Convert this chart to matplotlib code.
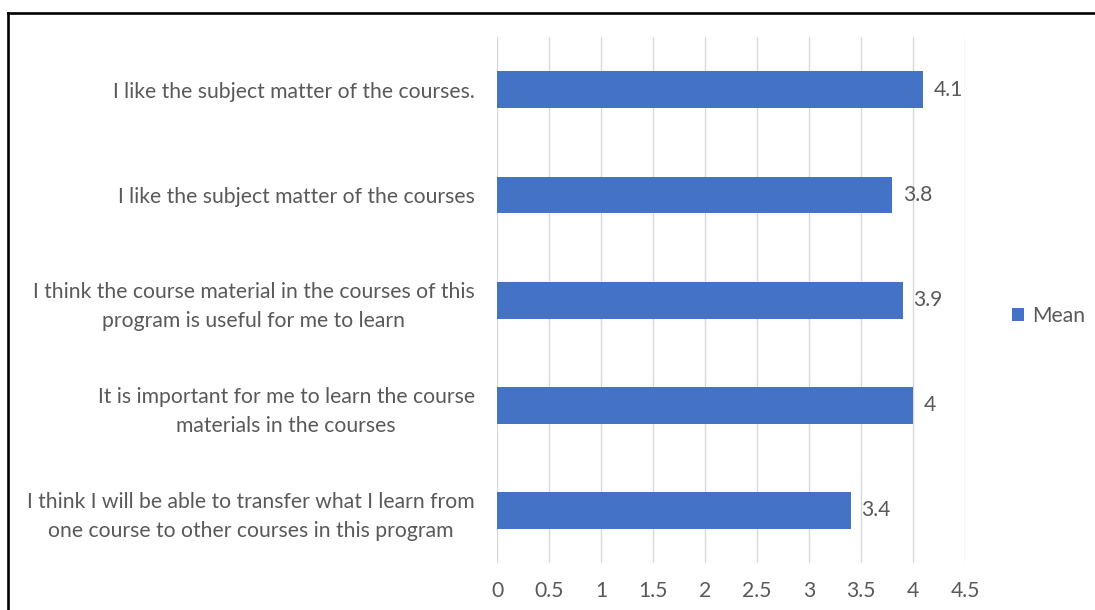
import matplotlib
matplotlib.use("Agg")
import matplotlib.pyplot as plt
from matplotlib.lines import Line2D

# 数据
statements = [
    "I think I will be able to transfer what I learn from\none course to other courses in this program",
    "It is important for me to learn the course\nmaterials in the courses",
    "I think the course material in the courses of this\nprogram is useful for me to learn",
    "I like the subject matter of the courses",
    "I like the subject matter of the courses.",
]
means = [3.4, 4, 3.9, 3.8, 4.1]
value_labels = ["3.4", "4", "3.9", "3.8", "4.1"]
x_ticks = [0, 0.5, 1, 1.5, 2, 2.5, 3, 3.5, 4, 4.5]
x_tick_labels = ["0", "0.5", "1", "1.5", "2", "2.5", "3", "3.5", "4", "4.5"]
series_name = "Mean"

bar_color = "#4472C4"
text_color = "#595959"
grid_color = "#D9D9D9"
fs = 15.2

plt.rcParams['font.family'] = ['Lato', 'DejaVu Sans']

fig = plt.figure(figsize=(10.95, 6.1), dpi=100)
ax = fig.add_axes([0.4539, 0.077, 0.4274, 0.862])

y = list(range(len(statements)))
bars = ax.barh(y, means, height=0.35, color=bar_color, label=series_name, zorder=3)

# 数据标签
for b, lab in zip(bars, value_labels):
    ax.annotate(lab, (b.get_width(), b.get_y() + b.get_height() / 2),
                xytext=(7.5, 0), textcoords="offset points",
                ha="left", va="center", fontsize=fs, color=text_color)

ax.set_xlim(0, 4.5)
ax.set_ylim(-0.5, len(statements) - 0.5)
ax.set_xticks(x_ticks)
ax.set_xticklabels(x_tick_labels)
ax.set_yticks(y)
ax.set_yticklabels(statements, multialignment="center", linespacing=1.55)
ax.tick_params(axis="both", length=0, labelsize=fs, colors=text_color)
ax.tick_params(axis="y", pad=16)
ax.tick_params(axis="x", pad=13)
ax.grid(axis="x", color=grid_color, linewidth=1, zorder=0)
for s in ax.spines.values():
    s.set_visible(False)

leg = ax.legend(loc="center left", bbox_to_anchor=(1.06, 0.47), frameon=False,
                handlelength=0.55, handleheight=0.55, handletextpad=0.4,
                fontsize=fs, labelcolor=text_color)

# 外框（上边和左边）
fig.add_artist(Line2D([0.0073, 1.0], [0.978, 0.978], color="black", linewidth=1.9,
                      transform=fig.transFigure))
fig.add_artist(Line2D([0.0073, 0.0073], [0.0, 0.978], color="black", linewidth=1.9,
                      transform=fig.transFigure))

fig.savefig("out.png", dpi=100)
